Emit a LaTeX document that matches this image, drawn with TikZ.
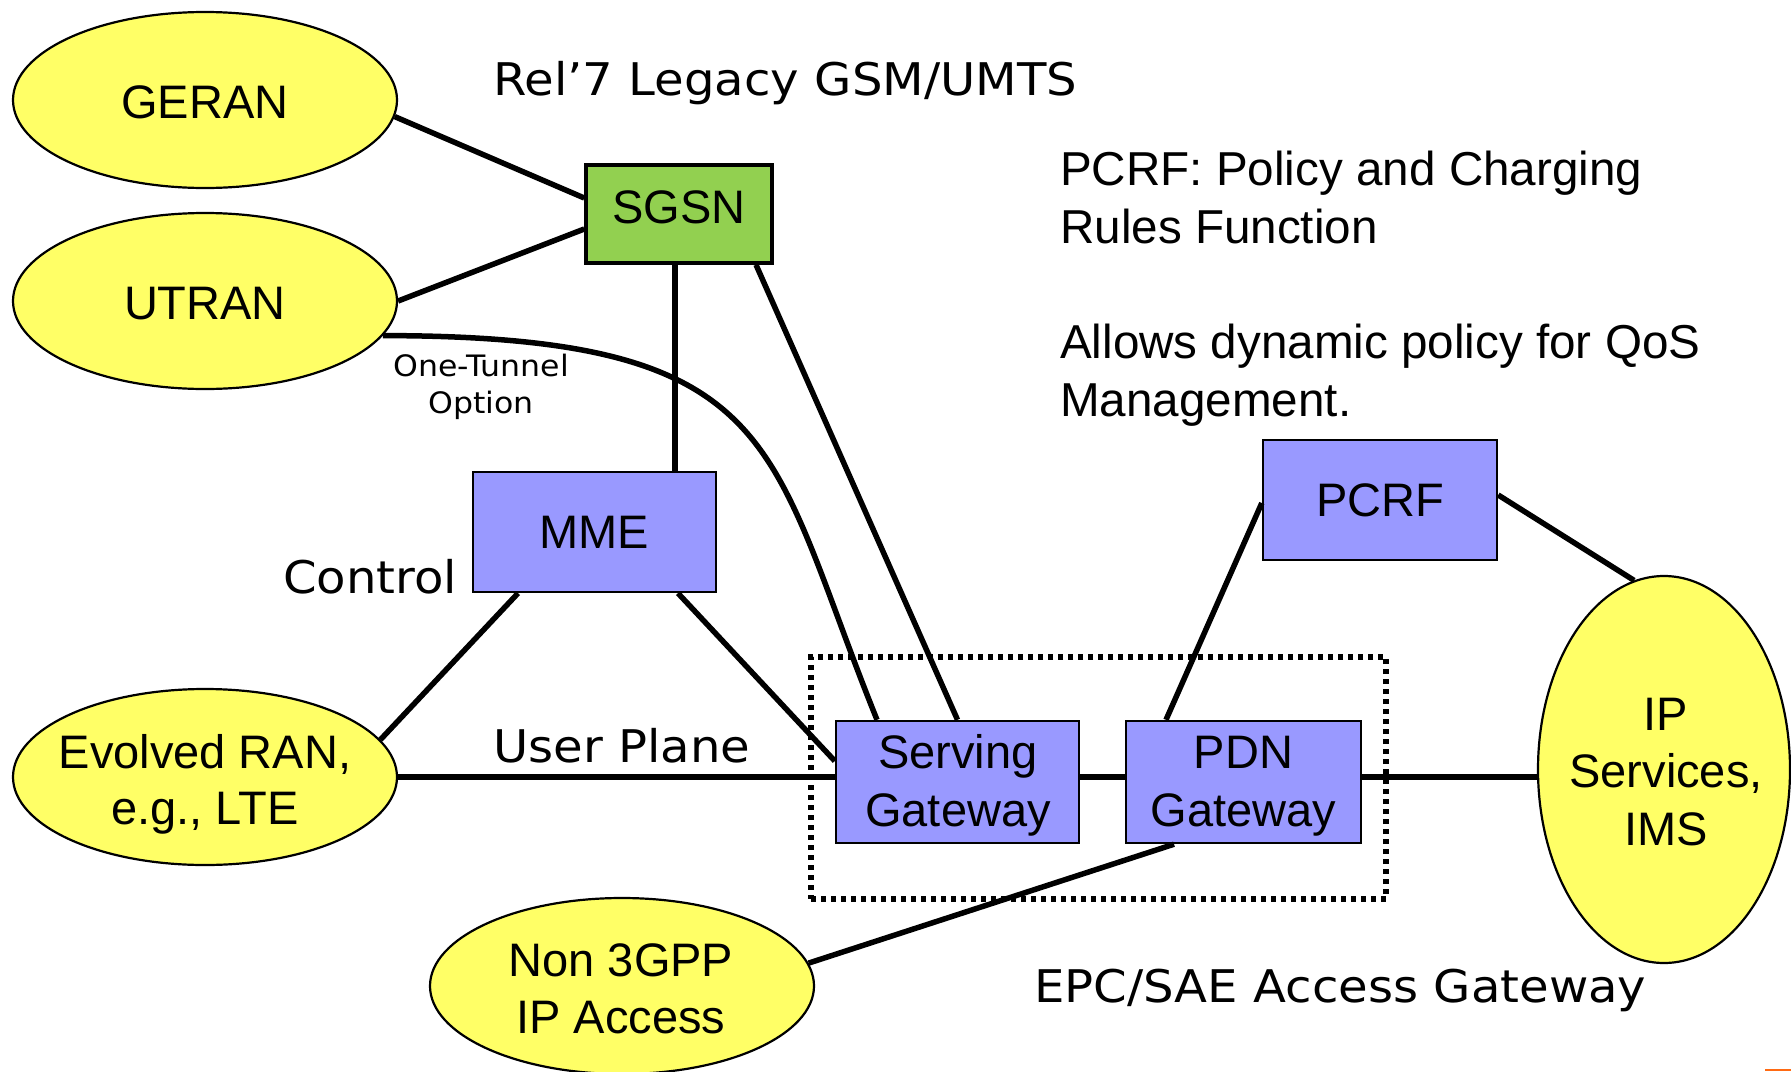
\documentclass[tikz,border=0pt]{standalone}
\usepackage{fontspec}
\setmainfont{Liberation Sans}
\newfontfamily\verd[FakeStretch=1.07]{DejaVu Sans}
\usetikzlibrary{shapes.geometric,calc}
\definecolor{ellfill}{HTML}{FFFF66}
\definecolor{boxfill}{HTML}{9999FF}
\definecolor{sgsnfill}{HTML}{92D050}
\definecolor{cornerorange}{HTML}{FF6A13}
\begin{document}
\begin{tikzpicture}[x=1pt,y=-1pt,
  ell/.style={ellipse, draw, line width=2.2pt, fill=ellfill, inner sep=0pt},
  box/.style={rectangle, draw, line width=2.4pt, fill=boxfill, inner sep=0pt,
              font=\fontsize{47}{57}\selectfont},
  txt/.style={inner sep=0pt, anchor=base, font=\fontsize{47}{57}\selectfont},
  dtxt/.style={inner sep=0pt, anchor=base west, font=\fontsize{47.6}{57}\selectfont},
  vtxt/.style={inner sep=0pt, anchor=base west, font=\verd\fontsize{45}{54}\selectfont},
  stxt/.style={inner sep=0pt, anchor=base, font=\verd\fontsize{29.5}{37}\selectfont},
  conn/.style={line width=5.5pt},
  epc/.style={rectangle, draw, line width=5.5pt, dash pattern=on 5pt off 5pt}
]
\useasboundingbox (0,0) rectangle (1791,1071);

% ellipses
\node[ell, minimum width=384pt, minimum height=176pt] (geran) at (205,100) {};
\node[ell, minimum width=384pt, minimum height=176pt] (utran) at (205,301) {};
\node[ell, minimum width=384pt, minimum height=176pt] (eran) at (205,777) {};
\node[ell, minimum width=384pt, minimum height=176pt] (non) at (622,986) {};
\node[ell, minimum width=252pt, minimum height=387pt] (ip) at (1664,769.5) {};

% dotted EPC box
\node[epc, minimum width=575pt, minimum height=242pt] (epcbox) at (1098.5,778) {};

% boxes
\node[box, fill=sgsnfill, line width=3.5pt, minimum width=186pt, minimum height=98pt] (sgsn) at (679,214) {};
\node[box, minimum width=243pt, minimum height=120pt] (mme) at (594.5,532) {MME};
\node[box, minimum width=243pt, minimum height=122pt] (sgw) at (957.5,782) {};
\node[box, minimum width=235pt, minimum height=122pt] (pdn) at (1243.5,782) {};
\node[box, minimum width=234pt, minimum height=120pt] (pcrf) at (1380,500) {PCRF};

% texts in shapes
\node[txt] (geran-t) at (205,118.3) {GERAN};
\node[txt] (utran-t) at (205,319.3) {UTRAN};
\node[txt] (sgsn-t) at (679,223.3) {SGSN};
\node[txt] (eran-t1) at (205,768.7) {Evolved RAN,};
\node[txt] (eran-t2) at (205,824.7) {e.g., LTE};
\node[txt] (non-t1) at (621,976.7) {Non 3GPP};
\node[txt] (non-t2) at (621,1033) {IP Access};
\node[txt] (ip-t1) at (1666,730) {IP};
\node[txt] (ip-t2) at (1666,787) {Services,};
\node[txt] (ip-t3) at (1666,845) {IMS};
\node[txt] (sgw-t1) at (958,768.3) {Serving};
\node[txt] (sgw-t2) at (958,826.7) {Gateway};
\node[txt] (pdn-t1) at (1243.5,768.3) {PDN};
\node[txt] (pdn-t2) at (1243.5,826.7) {Gateway};

% free texts
\node[vtxt] (rel7) at (493,95) {Rel’7 Legacy GSM/UMTS};
\node[vtxt] (control) at (283,593) {Control};
\node[vtxt] (uplane) at (493,762) {User Plane};
\node[vtxt] (epcgw) at (1034,1002) {EPC/SAE Access Gateway};
\node[stxt] (tun1) at (481,376) {One-Tunnel};
\node[stxt] (tun2) at (481,413) {Option};
\node[dtxt] (pcrf-d1) at (1060,185) {PCRF: Policy and Charging};
\node[dtxt] (pcrf-d2) at (1060,243.3) {Rules Function};
\node[dtxt] (qos-d1) at (1060,358.3) {Allows dynamic policy for QoS};
\node[dtxt] (qos-d2) at (1060,416.7) {Management.};

% connectors
\draw[conn] (geran.-5) -- ([yshift=16pt]sgsn.west);
\draw[conn] (utran.east) -- ([yshift=-15pt]sgsn.west);
\draw[conn] ([xshift=-4pt]sgsn.south) -- ([xshift=-4pt]sgsn.south |- mme.north);
\draw[conn] ([xshift=77pt]sgsn.south) -- (sgw.north);
\draw[conn] (utran.-11) .. controls (786,336) and (766,445) .. ([xshift=-80.5pt]sgw.north);
\draw[conn] ([xshift=-76.5pt]mme.south) -- (eran.12);
\draw[conn] ([xshift=83.5pt]mme.south) -- ([yshift=21pt]sgw.west);
\draw[conn] (eran.east) -- (eran.east -| sgw.west);
\draw[conn] (sgw.east |- eran.east) -- (pdn.west |- eran.east);
\draw[conn] (pdn.east |- eran.east) -- (ip.west |- eran.east);
\draw[conn] ([yshift=-3pt]pcrf.west) -- ([xshift=-77.5pt]pdn.north);
\draw[conn] ([yshift=5pt]pcrf.east) -- (ip.99);
\draw[conn] (non.7) -- ([xshift=-69.5pt]pdn.south);

% small orange mark at the corner
\fill[cornerorange] (1765,1068.5) rectangle (1791,1071);
\end{tikzpicture}
\end{document}
